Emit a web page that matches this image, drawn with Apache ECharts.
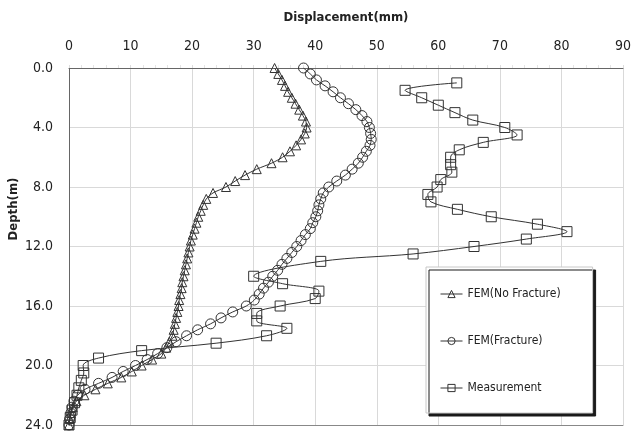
<!DOCTYPE html>
<html>
<head>
<meta charset="utf-8">
<script src="https://cdn.jsdelivr.net/npm/echarts@6/dist/echarts.min.js"></script>
<style>
  html, body { margin: 0; padding: 0; background: #fff; }
  #chart { width: 634px; height: 433px; }
</style>
</head>
<body>
<div id="chart"></div>
<script>
// Depth nodes (m) of the finite element profiles
var femDepth = [0.0, 0.4, 0.8, 1.2, 1.6, 2.0, 2.4, 2.8, 3.2, 3.6, 4.0, 4.4, 4.8, 5.2, 5.6, 6.0,
  6.4, 6.8, 7.2, 7.6, 8.0, 8.4, 8.8, 9.2, 9.6, 10.0, 10.4, 10.8, 11.2, 11.6, 12.0, 12.4,
  12.8, 13.2, 13.6, 14.0, 14.4, 14.8, 15.2, 15.6, 16.0, 16.4, 16.8, 17.2, 17.6, 18.0, 18.4,
  18.8, 19.2, 19.6, 20.0, 20.4, 20.8, 21.2, 21.6, 22.0, 22.4, 22.8, 23.2, 23.6, 24.0];

// Displacement (mm), FEM without fracture
var femNoFracture = [33.4, 34.0, 34.6, 35.1, 35.6, 36.2, 36.8, 37.4, 38.0, 38.5, 38.6, 38.3,
  37.7, 36.9, 35.9, 34.7, 32.9, 30.5, 28.6, 27.0, 25.5, 23.4, 22.3, 21.8, 21.4, 21.0, 20.7,
  20.4, 20.1, 19.8, 19.6, 19.4, 19.2, 19.0, 18.8, 18.6, 18.4, 18.3, 18.1, 17.9, 17.8, 17.6,
  17.4, 17.2, 17.0, 16.8, 16.3, 15.8, 15.0, 13.5, 11.8, 10.2, 8.5, 6.3, 4.3, 2.5, 1.2, 0.6,
  0.3, 0.1, 0.0];

// Displacement (mm), FEM with fracture
var femFracture = [38.1, 39.2, 40.2, 41.6, 42.9, 44.1, 45.4, 46.6, 47.6, 48.4, 48.8, 49.0,
  49.1, 48.9, 48.3, 47.7, 47.0, 46.0, 44.9, 43.5, 42.2, 41.3, 40.9, 40.6, 40.4, 40.1, 39.6,
  39.2, 38.4, 37.7, 37.0, 36.2, 35.4, 34.6, 33.9, 33.1, 32.4, 31.6, 30.9, 30.1, 28.8, 26.6,
  24.7, 23.0, 20.9, 19.1, 17.4, 15.9, 14.4, 12.7, 10.8, 8.8, 7.0, 4.8, 2.6, 1.4, 0.8, 0.5,
  0.3, 0.1, 0.0];

// Inclinometer readings
var measDepth = [1.0, 1.5, 2.0, 2.5, 3.0, 3.5, 4.0, 4.5, 5.0, 5.5, 6.0, 6.5, 7.0, 7.5, 8.0,
  8.5, 9.0, 9.5, 10.0, 10.5, 11.0, 11.5, 12.0, 12.5, 13.0, 14.0, 14.5, 15.0, 15.5, 16.0,
  16.5, 17.0, 17.5, 18.0, 18.5, 19.0, 19.5, 20.0, 20.5, 21.0, 21.5, 22.0, 22.5, 23.0, 23.5, 24.0];
var measValue = [63.0, 54.6, 57.3, 60.0, 62.7, 65.6, 70.8, 72.8, 67.3, 63.4, 62.0, 62.0, 62.2,
  60.4, 59.8, 58.3, 58.8, 63.1, 68.6, 76.1, 80.9, 74.3, 65.8, 55.9, 40.9, 30.0, 34.7, 40.6,
  40.0, 34.3, 30.5, 30.5, 35.4, 32.1, 23.9, 11.8, 4.8, 2.3, 2.4, 2.0, 1.6, 1.3, 0.9, 0.5, 0.2, 0.0];

var seriesNames = ['FEM(No Fracture)', 'FEM(Fracture)', 'Measurement'];

function pairs(xs, ds) {
  return xs.map(function (v, i) { return [v, ds[i]]; });
}

var FONT = '"Liberation Sans Narrow", "DejaVu Sans Condensed", "Liberation Sans", sans-serif';
var INK = '#333';

function profile(name, symbol, size, data, smooth) {
  return {
    name: name,
    type: 'line',
    data: data,
    symbol: symbol,
    symbolSize: size,
    smooth: smooth,
    showAllSymbol: true,
    itemStyle: { color: 'rgba(0,0,0,0)', borderColor: INK, borderWidth: 1 },
    lineStyle: { color: INK, width: 1 },
    emphasis: { disabled: true },
    animation: false
  };
}

var chart = echarts.init(document.getElementById('chart'), null, { renderer: 'canvas' });
chart.setOption({
  backgroundColor: '#fff',
  animation: false,
  textStyle: { fontFamily: FONT },
  grid: { left: 69, right: 10, top: 68, bottom: 8, containLabel: false },
  xAxis: [{
    type: 'value',
    position: 'top',
    min: 0, max: 90, interval: 10,
    name: 'Displacement(mm)',
    nameLocation: 'middle',
    nameGap: 44,
    nameTextStyle: { fontFamily: FONT, fontWeight: 'bold', fontSize: 13, color: '#222' },
    axisLine: { show: true, lineStyle: { color: '#666', width: 1 } },
    axisTick: { show: true, length: 3, lineStyle: { color: '#ddd' } },
    minorTick: { show: true, splitNumber: 5, length: 3, lineStyle: { color: '#e4e4e4' } },
    axisLabel: { margin: 15, fontFamily: FONT, fontSize: 14, color: '#222' },
    splitLine: { show: true, lineStyle: { color: '#d9d9d9', width: 1 } }
  }, {
    type: 'value',
    position: 'bottom',
    min: 0, max: 90,
    axisLine: { show: true, lineStyle: { color: '#888', width: 1 } },
    axisTick: { show: false },
    axisLabel: { show: false },
    splitLine: { show: false }
  }],
  yAxis: {
    type: 'value',
    inverse: true,
    min: 0, max: 24, interval: 4,
    axisLine: { show: true, lineStyle: { color: '#666', width: 1 } },
    axisTick: { show: false },
    axisLabel: {
      margin: 16, fontFamily: FONT, fontSize: 14, color: '#222',
      formatter: function (v) { return v.toFixed(1); }
    },
    splitLine: { show: true, lineStyle: { color: '#d9d9d9', width: 1 } }
  },
  legend: {
    orient: 'vertical',
    left: 426,
    top: 267,
    padding: [21, 32, 19, 14],
    itemGap: 35,
    itemWidth: 22,
    itemHeight: 9,
    backgroundColor: '#fff',
    borderColor: '#c8c8c8',
    borderWidth: 1,
    shadowColor: '#1a1a1a',
    shadowBlur: 0,
    shadowOffsetX: 3,
    shadowOffsetY: 3,
    itemStyle: { borderWidth: 1 },
    lineStyle: { width: 1 },
    textStyle: { fontFamily: FONT, fontSize: 12, color: '#222' },
    data: seriesNames
  },
  graphic: [{
    type: 'text',
    x: 14, y: 209,
    rotation: Math.PI / 2,
    style: {
      text: 'Depth(m)',
      font: 'bold 13px ' + FONT,
      fill: '#222',
      align: 'center',
      verticalAlign: 'middle'
    }
  }],
  series: [
    profile(seriesNames[0], 'triangle', 9, pairs(femNoFracture, femDepth), 0.3),
    profile(seriesNames[1], 'circle', 10, pairs(femFracture, femDepth), 0.3),
    profile(seriesNames[2], 'rect', 10, pairs(measValue, measDepth), 0.35)
  ]
});
</script>
</body>
</html>
